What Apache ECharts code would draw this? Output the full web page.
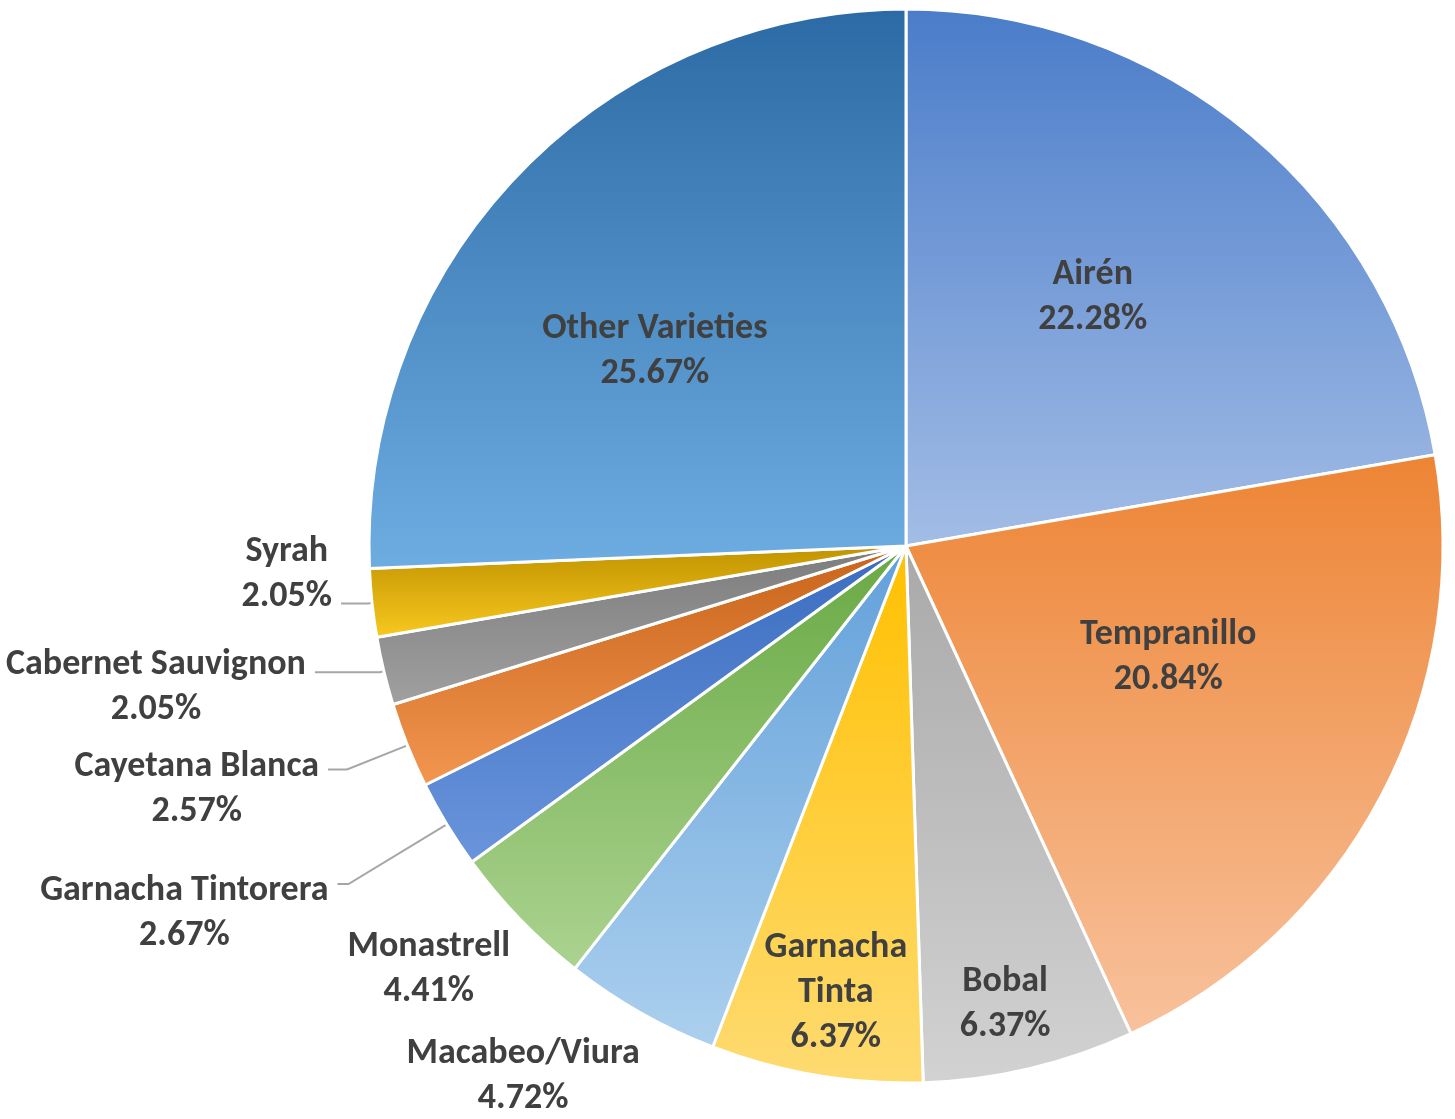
<!DOCTYPE html>
<html>
<head>
<meta charset="utf-8">
<script src="https://cdn.jsdelivr.net/npm/echarts/dist/echarts.min.js"></script>
<style>
  html, body { margin: 0; padding: 0; background: #fff; }
  #chart { width: 1455px; height: 1119px; }
</style>
</head>
<body>
<div id="chart"></div>
<script>
'use strict';

var varieties = ['Airén', 'Tempranillo', 'Bobal', 'Garnacha Tinta', 'Macabeo/Viura', 'Monastrell',
    'Garnacha Tintorera', 'Cayetana Blanca', 'Cabernet Sauvignon', 'Syrah', 'Other Varieties'];
var shares = [22.28, 20.84, 6.37, 6.37, 4.72, 4.41, 2.67, 2.57, 2.05, 2.05, 25.67];

// top / bottom colour of each slice's gradient
var shades = [
    ['#4a7cc9', '#a3bde6'],
    ['#ed8434', '#f8c29d'],
    ['#a9a9a9', '#d2d2d2'],
    ['#ffc000', '#fedb72'],
    ['#62a0d9', '#acd0ee'],
    ['#68a943', '#acd391'],
    ['#3a6cbf', '#6a95dc'],
    ['#c8631a', '#f29650'],
    ['#7c7c7c', '#a0a0a0'],
    ['#c09200', '#f8c91f'],
    ['#2c6aa5', '#6eade2']
];

var CX = 906, CY = 546, R = 537;

// labels without leader line: [radius fraction, angle shift (deg)]
var freeLabels = {
    'Airén': [0.579, -3.2],
    'Tempranillo': [0.531, -4.6],
    'Bobal': [0.873, 1.1],
    'Garnacha Tinta': [0.842, -0.7],
    'Macabeo/Viura': [1.219, 6.2],
    'Monastrell': [1.188, 2.4],
    'Other Varieties': [0.591, -6.1]
};
// labels with leader line: [length, length2, vertical shift]
var leaderLabels = {
    'Garnacha Tintorera': [115, 11, 29],
    'Cayetana Blanca': [65, 19, 20],
    'Cabernet Sauvignon': [4, 65, 15],
    'Syrah': [4, 27, -29]
};

var total = shares.reduce(function (a, b) { return a + b; }, 0);
var midAngles = [];
var acc = 0;
shares.forEach(function (v) {
    midAngles.push((acc + v / 2) / total * 360);
    acc += v;
});

function labelText(name, value) {
    var lines = (name === 'Garnacha Tinta' ? ['Garnacha', 'Tinta'] : [name]);
    lines.push(value.toFixed(2) + '%');
    return lines.map(function (l) { return '{c|' + l + '}'; }).join('\n');
}

var data = varieties.map(function (name, i) {
    var item = {
        name: name,
        value: shares[i],
        itemStyle: {
            color: {
                type: 'linear', x: 0, y: 0, x2: 0, y2: 1,
                colorStops: [{ offset: 0, color: shades[i][0] }, { offset: 1, color: shades[i][1] }]
            }
        }
    };
    var ld = leaderLabels[name];
    if (ld) {
        item.label = {
            position: 'outside',
            distanceToLabelLine: 9,
            padding: ld[2] > 0 ? [ld[2] * 2, 0, 0, 0] : [0, 0, -ld[2] * 2, 0]
        };
        item.labelLine = { show: true, length: ld[0], length2: ld[1] };
    } else {
        item.label = { position: 'inside' };
        item.labelLine = { show: false };
    }
    return item;
});

var chart = echarts.init(document.getElementById('chart'));

var option = {
    animation: false,
    backgroundColor: '#fff',
    series: [{
        type: 'pie',
        center: [CX, CY],
        radius: R,
        startAngle: 90,
        clockwise: true,
        avoidLabelOverlap: false,
        emphasis: { disabled: true },
        itemStyle: {
            borderColor: '#fff',
            borderWidth: 3
        },
        label: {
            show: true,
            formatter: function (p) { return labelText(p.name, p.value); },
            rich: {
                c: {
                    align: 'center',
                    fontFamily: 'Carlito, Lato, sans-serif',
                    fontWeight: 'bold',
                    fontSize: 36,
                    lineHeight: 45,
                    color: '#404040'
                }
            }
        },
        labelLine: {
            lineStyle: { color: '#a6a6a6', width: 2 }
        },
        labelLayout: function (params) {
            var name = varieties[params.dataIndex];
            var f = freeLabels[name];
            if (!f) {
                return {};
            }
            var a = (midAngles[params.dataIndex] + f[1]) * Math.PI / 180;
            return {
                x: CX + f[0] * R * Math.sin(a),
                y: CY - f[0] * R * Math.cos(a),
                align: 'center',
                verticalAlign: 'middle'
            };
        },
        data: data
    }]
};

chart.setOption(option);
</script>
</body>
</html>
